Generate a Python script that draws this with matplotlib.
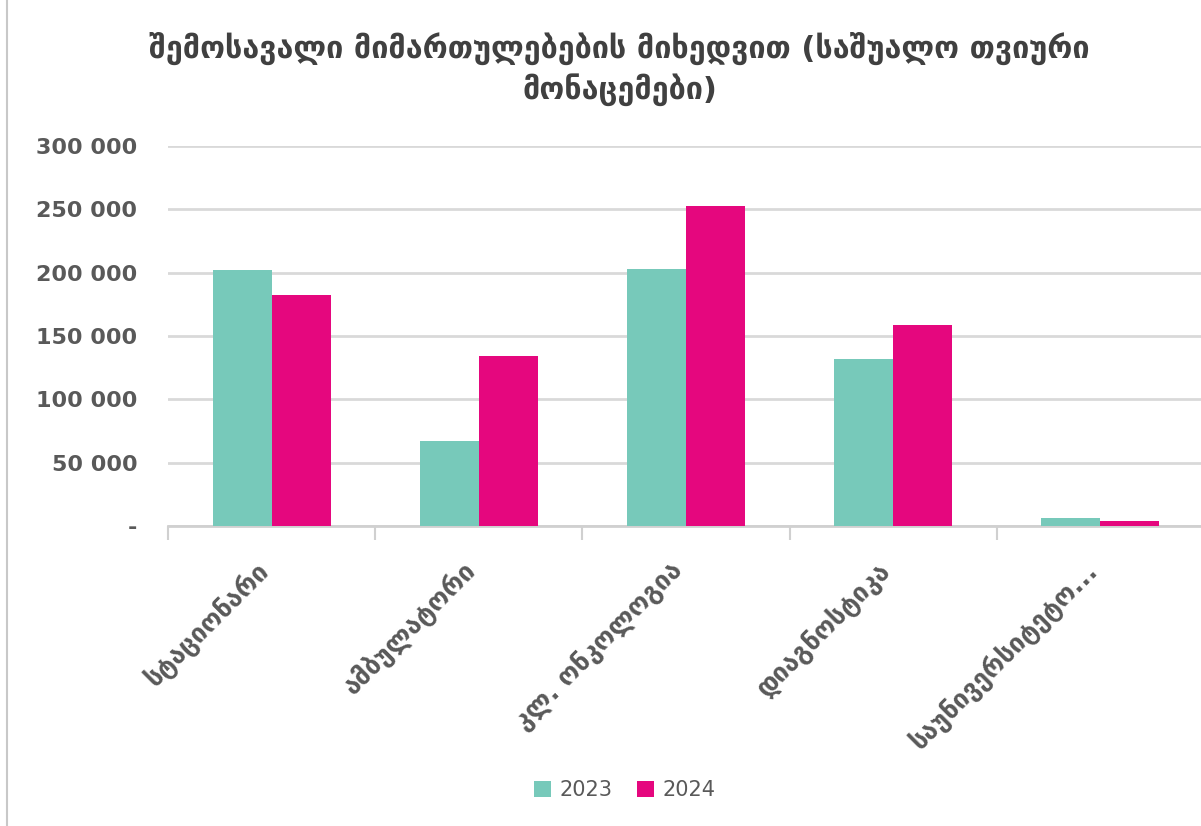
import numpy as np
import matplotlib.pyplot as plt
import matplotlib.transforms as mtransforms
from matplotlib.ticker import FuncFormatter
from matplotlib.lines import Line2D

# Data
categories = ['სტაციონარი', 'ამბულატორი', 'კლ. ონკოლოგია', 'დიაგნოსტიკა', 'საუნივერსიტეტო...']
values_2023 = [202000, 67000, 203000, 132000, 6300]
values_2024 = [182000, 134000, 253000, 159000, 4000]
years = ['2023', '2024']
title = 'შემოსავალი მიმართულებების მიხედვით (საშუალო თვიური\nმონაცემები)'

teal = '#77C9BA'
magenta = '#E5077E'
gray_text = '#595959'

plt.rcParams['font.family'] = ['DejaVu Sans']

fig = plt.figure(figsize=(12.01, 8.26), dpi=100)
ax = fig.add_axes([168 / 1201, 1 - 526 / 826, (1204 - 168) / 1201, (526 - 146) / 826])

x = np.arange(len(categories))
w = 0.285
ax.bar(x - w / 2, values_2023, w, color=teal, label=years[0], zorder=3)
ax.bar(x + w / 2, values_2024, w, color=magenta, label=years[1], zorder=3)

ax.set_xlim(-0.5, len(categories) - 0.5)
ax.set_ylim(0, 300000)
ax.set_yticks(np.arange(0, 300001, 50000))


def fmt(v, pos):
    if v == 0:
        return '-'
    return f'{int(v):,}'.replace(',', ' ')


ax.yaxis.set_major_formatter(FuncFormatter(fmt))
ax.tick_params(axis='y', length=0, pad=22, labelsize=16, labelcolor=gray_text)
for lbl in ax.get_yticklabels():
    lbl.set_fontweight('bold')

ax.yaxis.grid(True, color='#D9D9D9', linewidth=2, zorder=0)
ax.set_axisbelow(True)

for s in ['top', 'right', 'left']:
    ax.spines[s].set_visible(False)
ax.spines['bottom'].set_color('#D0D0D0')
ax.spines['bottom'].set_linewidth(2)

# category boundary ticks
ax.set_xticks(np.arange(-0.5, len(categories), 1.0), minor=True)
ax.tick_params(axis='x', which='minor', length=10, width=1.5, color='#D0D0D0')
ax.set_xticks(x)
ax.set_xticklabels(categories, rotation=45, ha='right', rotation_mode='anchor',
                   fontsize=18.5, fontweight='bold', color=gray_text)
ax.tick_params(axis='x', which='major', length=0, pad=22)
shift = mtransforms.ScaledTranslation(-12 / 72, 0, fig.dpi_scale_trans)
for lbl in ax.get_xticklabels():
    lbl.set_transform(lbl.get_transform() + shift)

fig.text(0.516, 1 - 69 / 826, title, ha='center', va='center', fontsize=22,
         fontweight='bold', color='#404040', linespacing=1.3)

fig.legend(loc='center', bbox_to_anchor=(0.52, 1 - 790 / 826), ncol=2, frameon=False,
           fontsize=15, handlelength=0.8, handleheight=0.8, handletextpad=0.4,
           columnspacing=1.2, labelcolor=gray_text)

# thin border line on the left of the picture
fig.add_artist(Line2D([7 / 1201, 7 / 1201], [0, 1], color='#C8C8C8', linewidth=1.5))

fig.savefig('out.png', dpi=100)
